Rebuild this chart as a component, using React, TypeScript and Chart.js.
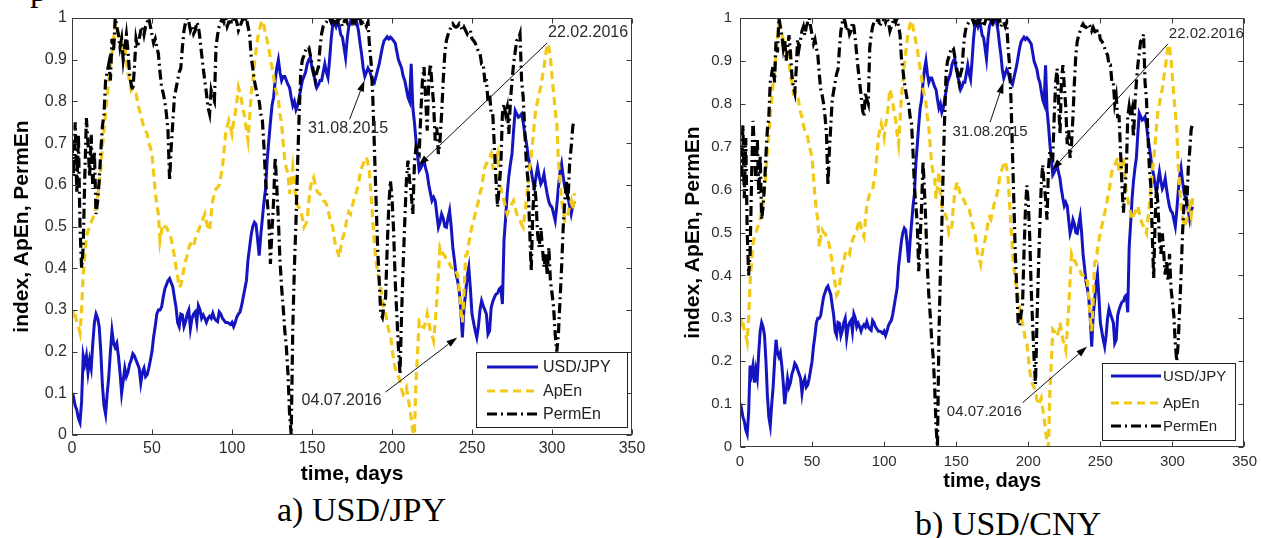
import React, { useEffect, useRef } from "react";
import { Chart, registerables } from "chart.js";

Chart.register(...registerables);

// ---------- data (one value per day, index = day) ----------
const usdJpy = [
  0.08, 0.09, 0.07, 0.06, 0.04, 0.03, 0.08, 0.19, 0.17, 0.19,
  0.15, 0.18, 0.16, 0.22, 0.27, 0.29, 0.28, 0.26, 0.2, 0.12,
  0.07, 0.05, 0.1, 0.14, 0.2, 0.25, 0.22, 0.21, 0.22, 0.19,
  0.15, 0.1, 0.13, 0.16, 0.14, 0.15, 0.17, 0.18, 0.195, 0.19,
  0.18, 0.17, 0.16, 0.125, 0.15, 0.16, 0.14, 0.145, 0.16, 0.18,
  0.2, 0.235, 0.26, 0.29, 0.3, 0.3, 0.307, 0.33, 0.35, 0.36,
  0.37, 0.375, 0.365, 0.355, 0.33, 0.307, 0.27, 0.26, 0.29, 0.288,
  0.26, 0.272, 0.29, 0.3, 0.255, 0.28, 0.29, 0.295, 0.27, 0.31,
  0.3, 0.28, 0.288, 0.28, 0.27, 0.28, 0.285, 0.28, 0.292, 0.28,
  0.275, 0.272, 0.295, 0.29, 0.28, 0.275, 0.27, 0.27, 0.268, 0.265,
  0.27, 0.26, 0.27, 0.283, 0.29, 0.295, 0.31, 0.33, 0.35, 0.37,
  0.42, 0.45, 0.48, 0.5, 0.51, 0.505, 0.47, 0.43, 0.48, 0.52,
  0.56, 0.59, 0.66, 0.705, 0.75, 0.79, 0.81, 0.85, 0.88, 0.9,
  0.87, 0.85, 0.86, 0.86, 0.85, 0.84, 0.833, 0.81, 0.79, 0.8,
  0.78, 0.79, 0.81, 0.83, 0.85, 0.86, 0.87, 0.89, 0.9, 0.905,
  0.88, 0.865, 0.85, 0.833, 0.84, 0.85, 0.85, 0.87, 0.89, 0.87,
  0.857, 0.9, 0.95, 0.985, 0.99, 0.98, 0.994, 0.98, 0.96, 0.954,
  0.93, 0.905, 0.95, 0.98, 0.99, 1.0, 0.99, 1.0, 0.99, 0.97,
  0.94, 0.914, 0.88, 0.86, 0.87, 0.88, 0.873, 0.86, 0.85, 0.845,
  0.86, 0.875, 0.89, 0.91, 0.93, 0.945, 0.95, 0.955, 0.95, 0.954,
  0.95, 0.945, 0.94, 0.92, 0.9, 0.89, 0.88, 0.86, 0.85, 0.83,
  0.81, 0.8, 0.89, 0.786, 0.75, 0.706, 0.67, 0.634, 0.64, 0.65,
  0.658, 0.64, 0.626, 0.6, 0.58, 0.562, 0.57, 0.562, 0.53, 0.498,
  0.51, 0.53, 0.52, 0.5, 0.498, 0.52, 0.538, 0.5, 0.45, 0.42,
  0.386, 0.37, 0.346, 0.3, 0.234, 0.306, 0.34, 0.38, 0.402, 0.35,
  0.29, 0.27, 0.25, 0.234, 0.26, 0.3, 0.322, 0.31, 0.3, 0.29,
  0.242, 0.25, 0.306, 0.32, 0.33, 0.338, 0.34, 0.35, 0.354, 0.314,
  0.466, 0.52, 0.578, 0.62, 0.65, 0.674, 0.73, 0.778, 0.77, 0.762,
  0.765, 0.77, 0.75, 0.722, 0.7, 0.674, 0.65, 0.634, 0.61, 0.594,
  0.62, 0.642, 0.62, 0.602, 0.61, 0.626, 0.6, 0.578, 0.56, 0.55,
  0.546, 0.53, 0.514, 0.55, 0.594, 0.63, 0.65, 0.62, 0.594, 0.58,
  0.57, 0.55, 0.53, 0.55, 0.56,
];

const apEn = [
  0.28, 0.3, 0.29, 0.27, 0.26, 0.245, 0.3, 0.385, 0.43, 0.474,
  0.49, 0.498, 0.51, 0.52, 0.53, 0.55, 0.57, 0.6, 0.64, 0.69,
  0.73, 0.77, 0.81, 0.85, 0.88, 0.914, 0.95, 0.986, 0.97, 0.962,
  0.95, 0.938, 0.92, 0.93, 0.9, 0.866, 0.85, 0.826, 0.83, 0.82,
  0.818, 0.8, 0.78, 0.77, 0.75, 0.738, 0.73, 0.722, 0.7, 0.69,
  0.674, 0.63, 0.586, 0.55, 0.53, 0.466, 0.49, 0.506, 0.5, 0.498,
  0.49, 0.482, 0.47, 0.45, 0.43, 0.402, 0.38, 0.354, 0.36, 0.378,
  0.4, 0.418, 0.43, 0.45, 0.458, 0.455, 0.45, 0.47, 0.482, 0.49,
  0.5, 0.506, 0.52, 0.53, 0.51, 0.498, 0.49, 0.53, 0.562, 0.578,
  0.59, 0.594, 0.6, 0.62, 0.642, 0.68, 0.722, 0.74, 0.754, 0.74,
  0.722, 0.75, 0.77, 0.8, 0.834, 0.82, 0.802, 0.78, 0.762, 0.73,
  0.706, 0.76, 0.818, 0.85, 0.89, 0.92, 0.95, 0.97, 0.985, 0.994,
  0.98, 0.962, 0.945, 0.93, 0.9, 0.882, 0.86, 0.834, 0.82, 0.802,
  0.77, 0.746, 0.7, 0.658, 0.64, 0.626, 0.578, 0.61, 0.642, 0.6,
  0.562, 0.55, 0.545, 0.538, 0.52, 0.498, 0.505, 0.514, 0.56, 0.594,
  0.61, 0.618, 0.6, 0.586, 0.58, 0.578, 0.57, 0.562, 0.56, 0.554,
  0.54, 0.522, 0.51, 0.498, 0.47, 0.45, 0.44, 0.426, 0.45, 0.47,
  0.482, 0.5, 0.522, 0.535, 0.53, 0.546, 0.562, 0.575, 0.586, 0.6,
  0.626, 0.64, 0.65, 0.66, 0.666, 0.65, 0.626, 0.57, 0.514, 0.46,
  0.418, 0.39, 0.37, 0.35, 0.322, 0.3, 0.29, 0.27, 0.25, 0.242,
  0.21, 0.178, 0.16, 0.146, 0.14, 0.13, 0.11, 0.098, 0.105, 0.114,
  0.09, 0.066, 0.04, 0.01, 0.0, 0.13, 0.2, 0.274, 0.27, 0.26,
  0.258, 0.27, 0.29, 0.27, 0.25, 0.24, 0.226, 0.27, 0.322, 0.39,
  0.45, 0.44, 0.434, 0.43, 0.42, 0.418, 0.41, 0.402, 0.4, 0.402,
  0.39, 0.386, 0.35, 0.3, 0.27, 0.34, 0.43, 0.434, 0.46, 0.482,
  0.5, 0.514, 0.53, 0.546, 0.56, 0.58, 0.594, 0.62, 0.642, 0.65,
  0.658, 0.665, 0.674, 0.64, 0.642, 0.66, 0.674, 0.63, 0.594, 0.575,
  0.562, 0.545, 0.53, 0.54, 0.546, 0.555, 0.562, 0.545, 0.53, 0.52,
  0.514, 0.505, 0.498, 0.53, 0.562, 0.6, 0.642, 0.67, 0.706, 0.75,
  0.786, 0.8, 0.82, 0.834, 0.86, 0.882, 0.91, 0.938, 0.93, 0.906,
  0.86, 0.818, 0.78, 0.746, 0.658, 0.61, 0.562, 0.54, 0.514, 0.52,
  0.53, 0.55, 0.562, 0.54, 0.58,
];

const permEn = [
  0.7, 0.62, 0.75, 0.58, 0.72, 0.5, 0.4, 0.45, 0.62, 0.76,
  0.7, 0.62, 0.72, 0.59, 0.68, 0.53, 0.56, 0.61, 0.68, 0.74,
  0.77, 0.85, 0.87, 0.89, 0.85, 0.95, 0.92, 1.0, 0.98, 0.96,
  0.93, 0.95, 0.9, 0.93, 0.96, 0.92, 0.866, 0.84, 0.826, 0.88,
  0.95, 0.93, 0.95, 0.97, 0.98, 0.96, 0.98, 0.99, 1.0, 0.98,
  0.96, 0.94, 0.95, 0.93, 0.914, 0.87, 0.834, 0.82, 0.8, 0.77,
  0.73, 0.61, 0.69, 0.75, 0.81, 0.83, 0.85, 0.87, 0.88, 0.93,
  0.97, 0.99, 1.0, 0.99, 0.97, 0.98, 0.962, 0.97, 0.99, 0.98,
  0.95, 0.914, 0.88, 0.85, 0.82, 0.786, 0.77, 0.826, 0.81, 0.8,
  0.93, 0.96, 0.98, 0.99, 1.0, 0.99, 1.0, 0.98, 0.99, 0.99,
  1.0, 0.99, 1.0, 0.99, 0.97, 0.98, 0.99, 1.0, 0.99, 1.0,
  0.98, 0.962, 0.906, 0.88, 0.85, 0.83, 0.81, 0.8, 0.77, 0.754,
  0.69, 0.61, 0.562, 0.52, 0.41, 0.49, 0.562, 0.666, 0.594, 0.514,
  0.418, 0.354, 0.306, 0.25, 0.21, 0.146, 0.05, 0.0, 0.258, 0.402,
  0.514, 0.65, 0.77, 0.874, 0.9, 0.91, 0.922, 0.93, 0.93, 0.91,
  0.89, 0.87, 0.85, 0.87, 0.882, 0.93, 0.962, 0.98, 0.986, 0.99,
  1.0, 1.0, 0.99, 1.0, 0.99, 1.0, 0.99, 1.0, 0.99, 0.98,
  0.99, 1.0, 0.99, 1.0, 1.0, 0.99, 1.0, 0.99, 1.0, 0.99,
  1.0, 0.98, 0.99, 0.99, 0.98, 0.99, 0.93, 0.89, 0.81, 0.69,
  0.57, 0.45, 0.37, 0.29, 0.282, 0.31, 0.33, 0.45, 0.55, 0.61,
  0.57, 0.49, 0.37, 0.29, 0.21, 0.146, 0.29, 0.41, 0.514, 0.61,
  0.658, 0.61, 0.58, 0.53, 0.65, 0.69, 0.68, 0.674, 0.77, 0.85,
  0.882, 0.81, 0.73, 0.85, 0.89, 0.84, 0.794, 0.706, 0.738, 0.674,
  0.706, 0.77, 0.85, 0.914, 0.946, 0.96, 0.97, 0.98, 0.986, 0.98,
  0.978, 0.98, 0.986, 0.98, 0.97, 0.978, 0.97, 0.962, 0.97, 0.97,
  0.95, 0.946, 0.94, 0.93, 0.92, 0.914, 0.89, 0.89, 0.85, 0.85,
  0.8, 0.818, 0.77, 0.77, 0.69, 0.61, 0.546, 0.6, 0.642, 0.77,
  0.794, 0.77, 0.786, 0.722, 0.8, 0.85, 0.89, 0.92, 0.946, 0.95,
  0.962, 0.85, 0.81, 0.73, 0.65, 0.61, 0.498, 0.394, 0.53, 0.61,
  0.562, 0.482, 0.45, 0.498, 0.45, 0.402, 0.434, 0.386, 0.45, 0.37,
  0.34, 0.306, 0.242, 0.2, 0.242, 0.322, 0.402, 0.498, 0.562, 0.61,
  0.562, 0.65, 0.69, 0.74, 0.755,
];

const seriesLabels = ["USD/JPY", "ApEn", "PermEn"];
const xTicks = [0, 50, 100, 150, 200, 250, 300, 350];
const yTicks = [0, 0.1, 0.2, 0.3, 0.4, 0.5, 0.6, 0.7, 0.8, 0.9, 1];

// annotation labels with their anchor (day, value) and arrow (from -> to) in data units
const noteLabels = ["31.08.2015", "22.02.2016", "04.07.2016"];
const noteTextAt = [
  [147.5, 0.734],
  [297.5, 0.964],
  [143.5, 0.083],
];
const noteArrowFrom = [
  [173.5, 0.757],
  [297, 0.94],
  [196, 0.103],
];
const noteArrowTo = [
  [182.8, 0.85],
  [216.5, 0.646],
  [240.8, 0.234],
];

// ---------- styles ----------
const SANS = "'Liberation Sans', Arial, Helvetica, sans-serif";
const SERIF = "'Liberation Serif', 'Times New Roman', serif";
const seriesColors = ["#1414c0", "#f2c916", "#000000"];
const seriesDashes: number[][] = [[], [8, 5], [10, 4, 2, 4]];
const seriesWidths = [3, 3.2, 3.2];

type PanelSpec = {
  caption: string;
  canvasLeft: number;
  canvasWidth: number;
  canvasHeight: number;
  yAxisWidth: number;
  xAxisHeight: number;
  padTop: number;
  padRight: number;
  tickSize: number;
  yTickPad: number;
  xTickPad: number;
  yTitleSize: number;
  xTitleSize: number;
  yTitlePad: number;
  xTitlePad: number;
  noteSize: number;
  legend: {
    right: number;
    bottom: number;
    width: number;
    height: number;
    rows: number[];
    lineLeft: number;
    lineLen: number;
    textGap: number;
    font: number;
  };
  captionLeft: number;
  captionTop: number;
};

const panels: PanelSpec[] = [
  {
    caption: "a) USD/JPY",
    canvasLeft: 0,
    canvasWidth: 652,
    canvasHeight: 490,
    yAxisWidth: 72,
    xAxisHeight: 55,
    padTop: 18,
    padRight: 20,
    tickSize: 16,
    yTickPad: 5,
    xTickPad: 4,
    yTitleSize: 21,
    xTitleSize: 21,
    yTitlePad: 10,
    xTitlePad: 3,
    noteSize: 16,
    legend: { right: 4, bottom: 7, width: 152, height: 76, rows: [15, 39, 62], lineLeft: 11, lineLen: 51, textGap: 5, font: 16 },
    captionLeft: 277,
    captionTop: 493,
  },
  {
    caption: "b) USD/CNY",
    canvasLeft: 672,
    canvasWidth: 591,
    canvasHeight: 500,
    yAxisWidth: 68,
    xAxisHeight: 53,
    padTop: 18,
    padRight: 13,
    tickSize: 15,
    yTickPad: 8,
    xTickPad: 6,
    yTitleSize: 21,
    xTitleSize: 20,
    yTitlePad: 9,
    xTitlePad: 7,
    noteSize: 15,
    legend: { right: 8, bottom: 6, width: 134, height: 78, rows: [13, 40, 63], lineLeft: 9, lineLen: 50, textGap: 2, font: 15 },
    captionLeft: 915,
    captionTop: 507,
  },
];

// ---------- plugins ----------
const framePlugin = {
  id: "matlabFrame",
  afterDatasetsDraw(chart: any) {
    const { ctx, chartArea: a, scales } = chart;
    const x = scales.x;
    const y = scales.y;
    const L = Math.round(a.left) + 0.5;
    const R = Math.round(a.right) - 0.5;
    const T = Math.round(a.top) + 0.5;
    const B = Math.round(a.bottom) - 0.5;
    ctx.save();
    ctx.strokeStyle = "#3a3a3a";
    ctx.lineWidth = 1;
    ctx.strokeRect(L, T, R - L, B - T);
    const tl = 5;
    ctx.beginPath();
    xTicks.forEach((v) => {
      const px = Math.round(x.getPixelForValue(v)) + 0.5;
      ctx.moveTo(px, B);
      ctx.lineTo(px, B - tl);
      ctx.moveTo(px, T);
      ctx.lineTo(px, T + tl);
    });
    yTicks.forEach((v) => {
      const py = Math.round(y.getPixelForValue(v)) + 0.5;
      ctx.moveTo(L, py);
      ctx.lineTo(L + tl, py);
      ctx.moveTo(R, py);
      ctx.lineTo(R - tl, py);
    });
    ctx.stroke();
    ctx.restore();
  },
};

const notePlugin = {
  id: "arrowNotes",
  afterDatasetsDraw(chart: any, _args: any, opts: any) {
    const { ctx, scales } = chart;
    const x = scales.x;
    const y = scales.y;
    ctx.save();
    noteLabels.forEach((label, i) => {
      const [fx, fy] = noteArrowFrom[i];
      const [tx, ty] = noteArrowTo[i];
      const x1 = x.getPixelForValue(fx);
      const y1 = y.getPixelForValue(fy);
      const x2 = x.getPixelForValue(tx);
      const y2 = y.getPixelForValue(ty);
      const ang = Math.atan2(y2 - y1, x2 - x1);
      const hl = 11;
      const hw = 3.5;
      const bx = x2 - hl * Math.cos(ang);
      const by = y2 - hl * Math.sin(ang);
      ctx.strokeStyle = "#111";
      ctx.lineWidth = 1;
      ctx.beginPath();
      ctx.moveTo(x1, y1);
      ctx.lineTo(bx, by);
      ctx.stroke();
      ctx.fillStyle = "#000";
      ctx.beginPath();
      ctx.moveTo(x2, y2);
      ctx.lineTo(bx + hw * Math.sin(ang), by - hw * Math.cos(ang));
      ctx.lineTo(bx - hw * Math.sin(ang), by + hw * Math.cos(ang));
      ctx.closePath();
      ctx.fill();
      const [ax, ay] = noteTextAt[i];
      ctx.font = `${opts.size}px ${SANS}`;
      ctx.fillStyle = "#2a2a2a";
      ctx.textAlign = "left";
      ctx.textBaseline = "middle";
      ctx.fillText(label, x.getPixelForValue(ax), y.getPixelForValue(ay));
    });
    ctx.restore();
  },
};

const legendPlugin = {
  id: "boxLegend",
  afterDraw(chart: any, _args: any, opts: any) {
    const { ctx, chartArea: a } = chart;
    const right = Math.round(a.right) - opts.right;
    const bottom = Math.round(a.bottom) - opts.bottom;
    const left = right - opts.width;
    const top = bottom - opts.height;
    ctx.save();
    ctx.fillStyle = "#fff";
    ctx.fillRect(left, top, opts.width, opts.height);
    ctx.strokeStyle = "#222";
    ctx.lineWidth = 1;
    ctx.strokeRect(left + 0.5, top + 0.5, opts.width - 1, opts.height - 1);
    chart.data.datasets.forEach((ds: any, i: number) => {
      const ry = top + opts.rows[i];
      ctx.strokeStyle = ds.borderColor;
      ctx.lineWidth = ds.borderWidth;
      ctx.setLineDash(ds.borderDash || []);
      ctx.beginPath();
      ctx.moveTo(left + opts.lineLeft, ry);
      ctx.lineTo(left + opts.lineLeft + opts.lineLen, ry);
      ctx.stroke();
      ctx.setLineDash([]);
      ctx.font = `${opts.font}px ${SANS}`;
      ctx.fillStyle = "#222";
      ctx.textAlign = "left";
      ctx.textBaseline = "middle";
      ctx.fillText(ds.label, left + opts.lineLeft + opts.lineLen + opts.textGap, ry + 1);
    });
    ctx.restore();
  },
};

function fmtY(v: number) {
  return String(Number(v.toFixed(1)));
}

function Panel({ spec }: { spec: PanelSpec }) {
  const ref = useRef<HTMLCanvasElement | null>(null);
  useEffect(() => {
    if (!ref.current) return;
    const series = [usdJpy, apEn, permEn];
    const datasets = series.map((vals, i) => ({
      label: seriesLabels[i],
      data: vals.map((v, d) => ({ x: d, y: v })),
      borderColor: seriesColors[i],
      backgroundColor: seriesColors[i],
      borderWidth: seriesWidths[i],
      borderDash: seriesDashes[i],
      pointRadius: 0,
      tension: 0,
      fill: false,
      order: 3 - i,
    }));
    const chart = new Chart(ref.current, {
      type: "line",
      data: { datasets },
      plugins: [framePlugin, notePlugin, legendPlugin],
      options: {
        animation: false,
        responsive: false,
        maintainAspectRatio: false,
        devicePixelRatio: 1,
        layout: { padding: { left: 0, top: spec.padTop, right: spec.padRight, bottom: 0 } },
        plugins: {
          legend: { display: false },
          tooltip: { enabled: false },
          title: { display: false },
          arrowNotes: { size: spec.noteSize },
          boxLegend: spec.legend,
        } as any,
        scales: {
          x: {
            type: "linear",
            min: 0,
            max: 350,
            afterBuildTicks: (s: any) => {
              s.ticks = xTicks.map((v) => ({ value: v }));
            },
            afterFit: (s: any) => {
              s.height = spec.xAxisHeight;
            },
            grid: { display: false, drawTicks: false },
            border: { display: false },
            ticks: {
              autoSkip: false,
              maxRotation: 0,
              padding: spec.xTickPad,
              color: "#2e2e2e",
              font: { family: SANS, size: spec.tickSize },
              callback: (v: any) => String(v),
            },
            title: {
              display: true,
              text: "time, days",
              color: "#000",
              font: { family: SANS, size: spec.xTitleSize, weight: "bold" },
              padding: { top: 0, bottom: spec.xTitlePad },
            },
          },
          y: {
            type: "linear",
            min: 0,
            max: 1,
            afterBuildTicks: (s: any) => {
              s.ticks = yTicks.map((v) => ({ value: v }));
            },
            afterFit: (s: any) => {
              s.width = spec.yAxisWidth;
            },
            grid: { display: false, drawTicks: false },
            border: { display: false },
            ticks: {
              autoSkip: false,
              padding: spec.yTickPad,
              color: "#2e2e2e",
              font: { family: SANS, size: spec.tickSize },
              callback: (v: any) => fmtY(Number(v)),
            },
            title: {
              display: true,
              text: "index, ApEn, PermEn",
              color: "#000",
              font: { family: SANS, size: spec.yTitleSize, weight: "bold" },
              padding: { top: spec.yTitlePad, bottom: 0 },
            },
          },
        },
      } as any,
    });
    return () => chart.destroy();
  }, [spec]);

  return (
    <>
      <canvas
        ref={ref}
        width={spec.canvasWidth}
        height={spec.canvasHeight}
        style={{
          position: "absolute",
          left: spec.canvasLeft,
          top: 0,
          width: spec.canvasWidth,
          height: spec.canvasHeight,
        }}
      />
      <div
        style={{
          position: "absolute",
          left: spec.captionLeft,
          top: spec.captionTop,
          fontFamily: SERIF,
          fontSize: 34,
          lineHeight: "34px",
          color: "#000",
          whiteSpace: "nowrap",
        }}
      >
        {spec.caption}
      </div>
    </>
  );
}

export default function App() {
  return (
    <div
      style={{
        position: "absolute",
        left: 0,
        top: 0,
        width: 1262,
        height: 538,
        overflow: "hidden",
        background: "#fff",
      }}
    >
      <div
        style={{
          position: "absolute",
          left: 30,
          top: -27,
          fontFamily: SERIF,
          fontSize: 34,
          lineHeight: "34px",
          color: "#000",
        }}
      >
        p
      </div>
      {panels.map((p) => (
        <Panel key={p.caption} spec={p} />
      ))}
    </div>
  );
}
